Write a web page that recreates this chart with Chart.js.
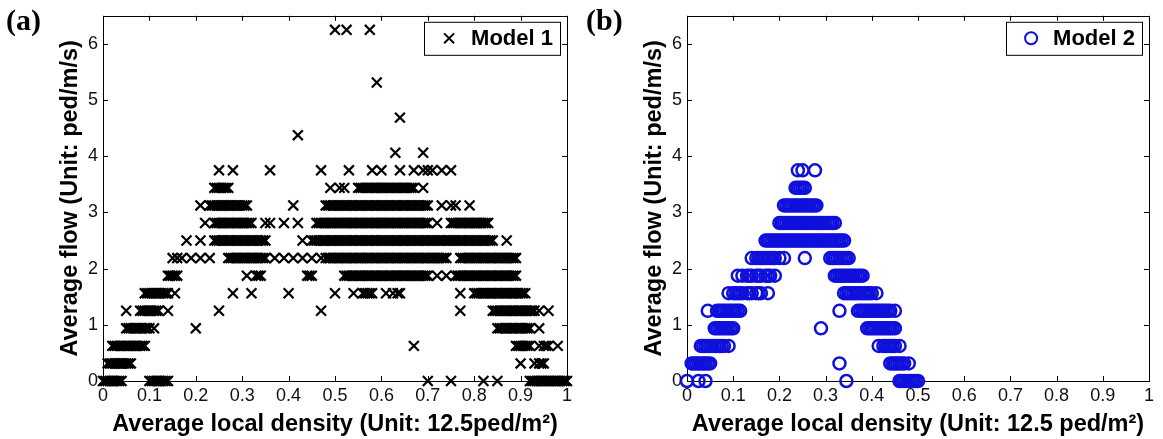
<!DOCTYPE html>
<html>
<head>
<meta charset="utf-8">
<script src="https://cdn.jsdelivr.net/npm/chart.js@4.4.1/dist/chart.umd.min.js"></script>
<style>
  body { margin: 0; background: #fff; }
  #wrap { position: relative; width: 1163px; height: 439px; }
  canvas { position: absolute; top: 0; }
  #chartA { left: 0; }
  #chartB { left: 580px; }
</style>
</head>
<body>
<div id="wrap">
  <canvas id="chartA" width="580" height="439"></canvas>
  <canvas id="chartB" width="583" height="439"></canvas>
</div>
<script>
// flow levels (ped/m/s) shared by both models
const flowLevels = [0, 0.3125, 0.625, 0.9375, 1.25, 1.5625, 1.875, 2.1875, 2.5, 2.8125,
  3.125, 3.4375, 3.75, 4.0625, 4.375, 4.6875, 5.3125, 6.25];

const xTicks = [0, 0.1, 0.2, 0.3, 0.4, 0.5, 0.6, 0.7, 0.8, 0.9, 1];
const yTicks = [0, 1, 2, 3, 4, 5, 6];

// Model 1: densities observed at each flow level (same order as flowLevels)
const model1Density = [
  [0, 0.005, 0.01, 0.015, 0.02, 0.025, 0.03, 0.035, 0.04, 0.1, 0.105, 0.11, 0.115, 0.12, 0.125, 0.13, 0.135, 0.14,
    0.7, 0.75, 0.82, 0.85, 0.92, 0.925, 0.93, 0.935, 0.94, 0.945, 0.95, 0.955, 0.96, 0.965, 0.97, 0.975, 0.98,
    0.985, 0.99, 0.995, 1],
  [0.01, 0.015, 0.02, 0.025, 0.03, 0.035, 0.04, 0.045, 0.05, 0.055, 0.06, 0.9, 0.93, 0.94, 0.945, 0.95],
  [0.02, 0.025, 0.03, 0.035, 0.04, 0.045, 0.05, 0.055, 0.06, 0.065, 0.07, 0.075, 0.08, 0.085, 0.09, 0.67,
    0.89, 0.895, 0.9, 0.905, 0.91, 0.915, 0.92, 0.94, 0.95, 0.955, 0.96, 0.98],
  [0.05, 0.055, 0.06, 0.065, 0.07, 0.075, 0.08, 0.085, 0.09, 0.095, 0.1, 0.11, 0.2, 0.85, 0.855, 0.86, 0.865,
    0.87, 0.875, 0.88, 0.885, 0.89, 0.895, 0.9, 0.905, 0.91, 0.915, 0.92, 0.94],
  [0.05, 0.08, 0.085, 0.09, 0.095, 0.1, 0.105, 0.11, 0.115, 0.12, 0.14, 0.25, 0.47, 0.77, 0.84, 0.845, 0.85,
    0.855, 0.86, 0.865, 0.87, 0.875, 0.88, 0.885, 0.89, 0.895, 0.9, 0.905, 0.91, 0.915, 0.92, 0.925, 0.93,
    0.94, 0.96],
  [0.09, 0.095, 0.1, 0.105, 0.11, 0.115, 0.12, 0.125, 0.13, 0.135, 0.14, 0.155, 0.28, 0.32, 0.4, 0.5, 0.54,
    0.56, 0.565, 0.57, 0.575, 0.58, 0.61, 0.625, 0.635, 0.64, 0.77, 0.8, 0.805, 0.81, 0.815, 0.82, 0.825, 0.83,
    0.835, 0.84, 0.845, 0.85, 0.855, 0.86, 0.865, 0.87, 0.875, 0.88, 0.885, 0.89, 0.895, 0.9, 0.905, 0.91],
  [0.14, 0.145, 0.15, 0.155, 0.16, 0.31, 0.33, 0.335, 0.34, 0.44, 0.445, 0.45,
    0.52, 0.525, 0.53, 0.535, 0.54, 0.545, 0.55, 0.555, 0.56, 0.565, 0.57, 0.575, 0.58, 0.585, 0.59, 0.595,
    0.6, 0.605, 0.61, 0.615, 0.62, 0.625, 0.63, 0.635, 0.64, 0.645, 0.65, 0.655, 0.66, 0.665, 0.67, 0.675,
    0.68, 0.685, 0.69, 0.695, 0.7, 0.72, 0.74, 0.76, 0.765, 0.77, 0.775, 0.78, 0.785, 0.79, 0.795, 0.8, 0.805,
    0.81, 0.815, 0.82, 0.825, 0.83, 0.835, 0.84, 0.845, 0.85, 0.855, 0.86, 0.865, 0.87, 0.875, 0.88, 0.885, 0.89],
  [0.15, 0.16, 0.17, 0.19, 0.21, 0.23, 0.27, 0.275, 0.28, 0.285, 0.29, 0.295, 0.3, 0.305, 0.31, 0.315, 0.32,
    0.325, 0.33, 0.335, 0.34, 0.345, 0.35, 0.37, 0.39, 0.41, 0.43, 0.45, 0.47,
    0.48, 0.485, 0.49, 0.495, 0.5, 0.505, 0.51, 0.515, 0.52, 0.525, 0.53, 0.535, 0.54, 0.545, 0.55, 0.555,
    0.56, 0.565, 0.57, 0.575, 0.58, 0.585, 0.59, 0.595, 0.6, 0.605, 0.61, 0.615, 0.62, 0.625, 0.63, 0.635,
    0.64, 0.645, 0.65, 0.655, 0.66, 0.665, 0.67, 0.675, 0.68, 0.685, 0.69, 0.695, 0.7, 0.705, 0.71, 0.715,
    0.72, 0.725, 0.73, 0.735, 0.74, 0.77, 0.775, 0.78, 0.785, 0.79, 0.795, 0.8, 0.805, 0.81, 0.815, 0.82,
    0.825, 0.83, 0.835, 0.84, 0.845, 0.85, 0.855, 0.86, 0.865, 0.87, 0.875, 0.88, 0.885, 0.89],
  [0.18, 0.21, 0.24, 0.245, 0.25, 0.255, 0.26, 0.265, 0.27, 0.275, 0.28, 0.285, 0.29, 0.295, 0.3, 0.305, 0.31,
    0.315, 0.32, 0.325, 0.33, 0.335, 0.34, 0.345, 0.35, 0.43,
    0.45, 0.455, 0.46, 0.465, 0.47, 0.475, 0.48, 0.485, 0.49, 0.495, 0.5, 0.505, 0.51, 0.515, 0.52, 0.525,
    0.53, 0.535, 0.54, 0.545, 0.55, 0.555, 0.56, 0.565, 0.57, 0.575, 0.58, 0.585, 0.59, 0.595, 0.6, 0.605,
    0.61, 0.615, 0.62, 0.625, 0.63, 0.635, 0.64, 0.645, 0.65, 0.655, 0.66, 0.665, 0.67, 0.675, 0.68, 0.685,
    0.69, 0.695, 0.7, 0.705, 0.71, 0.715, 0.72, 0.725, 0.73, 0.735, 0.74, 0.745, 0.75, 0.755, 0.76, 0.765,
    0.77, 0.775, 0.78, 0.785, 0.79, 0.795, 0.8, 0.805, 0.81, 0.815, 0.82, 0.825, 0.83, 0.835, 0.84, 0.87],
  [0.22, 0.24, 0.245, 0.25, 0.255, 0.26, 0.265, 0.27, 0.275, 0.28, 0.285, 0.29, 0.295, 0.3, 0.305, 0.31, 0.315,
    0.32, 0.35, 0.36, 0.39, 0.42, 0.46, 0.465, 0.47, 0.475, 0.48, 0.485, 0.49, 0.495, 0.5, 0.505, 0.51, 0.515,
    0.52, 0.525, 0.53, 0.535, 0.54, 0.545, 0.55, 0.555, 0.56, 0.565, 0.57, 0.575, 0.58, 0.585, 0.59, 0.595,
    0.6, 0.605, 0.61, 0.615, 0.62, 0.625, 0.63, 0.635, 0.64, 0.645, 0.65, 0.655, 0.66, 0.665, 0.67, 0.675,
    0.68, 0.685, 0.69, 0.695, 0.7, 0.72, 0.75, 0.755, 0.76, 0.765, 0.77, 0.775, 0.78, 0.785, 0.79, 0.795, 0.8,
    0.805, 0.81, 0.815, 0.82, 0.825, 0.83],
  [0.21, 0.23, 0.235, 0.24, 0.245, 0.25, 0.255, 0.26, 0.265, 0.27, 0.275, 0.28, 0.285, 0.29, 0.295, 0.3, 0.305,
    0.31, 0.41, 0.48, 0.485, 0.49, 0.495, 0.5, 0.505, 0.51, 0.515, 0.52, 0.525, 0.53, 0.535, 0.54, 0.545, 0.55,
    0.555, 0.56, 0.565, 0.57, 0.575, 0.58, 0.585, 0.59, 0.595, 0.6, 0.605, 0.61, 0.615, 0.62, 0.625, 0.63,
    0.635, 0.64, 0.645, 0.65, 0.655, 0.66, 0.665, 0.67, 0.675, 0.68, 0.685, 0.69, 0.695, 0.7, 0.73, 0.75,
    0.76, 0.79],
  [0.24, 0.245, 0.25, 0.255, 0.26, 0.265, 0.27, 0.49, 0.51, 0.52, 0.55, 0.555, 0.56, 0.565, 0.57, 0.575, 0.58,
    0.585, 0.59, 0.595, 0.6, 0.605, 0.61, 0.615, 0.62, 0.625, 0.63, 0.635, 0.64, 0.645, 0.65, 0.655, 0.66,
    0.665, 0.67, 0.69],
  [0.25, 0.28, 0.36, 0.47, 0.53, 0.58, 0.6, 0.64, 0.67, 0.69, 0.7, 0.71, 0.73, 0.75],
  [0.63, 0.69],
  [0.42],
  [0.64],
  [0.59],
  [0.5, 0.525, 0.575]
];

// Model 2: densities observed at each flow level (only up to 3.75)
const model2Density = [
  [0, 0.025, 0.04, 0.345, 0.46, 0.465, 0.47, 0.475, 0.48, 0.485, 0.49, 0.495, 0.5],
  [0.01, 0.015, 0.02, 0.025, 0.03, 0.035, 0.04, 0.045, 0.05, 0.33, 0.44, 0.445, 0.45, 0.455, 0.46, 0.465,
    0.47, 0.48],
  [0.03, 0.035, 0.04, 0.045, 0.05, 0.055, 0.06, 0.065, 0.07, 0.075, 0.08, 0.09, 0.415, 0.425, 0.43, 0.435,
    0.44, 0.445, 0.45, 0.46],
  [0.06, 0.065, 0.07, 0.075, 0.08, 0.085, 0.09, 0.095, 0.1, 0.29, 0.39, 0.395, 0.4, 0.405, 0.41, 0.415, 0.42,
    0.425, 0.43, 0.435, 0.44, 0.445, 0.45],
  [0.045, 0.065, 0.07, 0.075, 0.08, 0.085, 0.09, 0.095, 0.1, 0.105, 0.11, 0.115, 0.33, 0.37, 0.375, 0.38,
    0.385, 0.39, 0.395, 0.4, 0.405, 0.41, 0.415, 0.42, 0.425, 0.43, 0.435, 0.44, 0.45],
  [0.09, 0.1, 0.105, 0.11, 0.115, 0.12, 0.13, 0.135, 0.14, 0.15, 0.155, 0.16, 0.175, 0.34, 0.345, 0.35, 0.355,
    0.36, 0.365, 0.37, 0.375, 0.38, 0.385, 0.39, 0.395, 0.4, 0.41],
  [0.11, 0.12, 0.13, 0.135, 0.14, 0.15, 0.155, 0.16, 0.17, 0.175, 0.18, 0.19, 0.32, 0.325, 0.33, 0.335, 0.34,
    0.345, 0.35, 0.355, 0.36, 0.365, 0.37, 0.375, 0.38],
  [0.14, 0.15, 0.155, 0.16, 0.165, 0.17, 0.175, 0.18, 0.185, 0.19, 0.2, 0.21, 0.255, 0.31, 0.315, 0.32, 0.325,
    0.33, 0.335, 0.34, 0.345, 0.35],
  [0.17, 0.175, 0.18, 0.185, 0.19, 0.195, 0.2, 0.205, 0.21, 0.215, 0.22, 0.225, 0.23, 0.235, 0.24, 0.245, 0.25,
    0.255, 0.26, 0.265, 0.27, 0.275, 0.28, 0.285, 0.29, 0.295, 0.3, 0.305, 0.31, 0.315, 0.32, 0.325, 0.33,
    0.335, 0.34],
  [0.2, 0.205, 0.21, 0.215, 0.22, 0.225, 0.23, 0.235, 0.24, 0.245, 0.25, 0.255, 0.26, 0.265, 0.27, 0.275, 0.28,
    0.285, 0.29, 0.295, 0.3, 0.305, 0.31, 0.315, 0.32],
  [0.21, 0.215, 0.22, 0.225, 0.23, 0.235, 0.24, 0.245, 0.25, 0.255, 0.26, 0.265, 0.27, 0.275, 0.28],
  [0.235, 0.24, 0.245, 0.25, 0.255],
  [0.24, 0.25, 0.277]
];

const FONT = '"Liberation Sans", Arial, Helvetica, sans-serif';

function toPoints(densities) {
  const pts = [];
  densities.forEach((row, i) => row.forEach(d => pts.push({ x: d, y: flowLevels[i] })));
  return pts;
}

// box around the axes with inward ticks on all four sides
const framePlugin = {
  id: 'frame',
  beforeDatasetsDraw(chart) {
    const { ctx, chartArea: a, scales: { x, y } } = chart;
    ctx.save();
    ctx.strokeStyle = '#000';
    ctx.lineWidth = 1;
    ctx.strokeRect(Math.round(a.left) + 0.5, Math.round(a.top) + 0.5, Math.round(a.width), Math.round(a.height));
    ctx.beginPath();
    xTicks.forEach(v => {
      const px = Math.round(x.getPixelForValue(v)) + 0.5;
      ctx.moveTo(px, a.bottom); ctx.lineTo(px, a.bottom - 5);
      ctx.moveTo(px, a.top); ctx.lineTo(px, a.top + 5);
    });
    yTicks.forEach(v => {
      const py = Math.round(y.getPixelForValue(v)) + 0.5;
      ctx.moveTo(a.left, py); ctx.lineTo(a.left + 5, py);
      ctx.moveTo(a.right, py); ctx.lineTo(a.right - 5, py);
    });
    ctx.stroke();
    ctx.restore();
  }
};

function drawMarker(ctx, style, color, x, y, r) {
  ctx.save();
  ctx.strokeStyle = color;
  ctx.lineWidth = 2;
  ctx.beginPath();
  if (style === 'circle') {
    ctx.arc(x, y, r, 0, Math.PI * 2);
  } else {
    const d = r * Math.SQRT1_2;
    ctx.moveTo(x - d, y - d); ctx.lineTo(x + d, y + d);
    ctx.moveTo(x - d, y + d); ctx.lineTo(x + d, y - d);
  }
  ctx.stroke();
  ctx.restore();
}

// boxed legend in the upper right corner plus the panel tag
const boxLegend = {
  id: 'boxLegend',
  afterDraw(chart, args, opts) {
    const { ctx, chartArea: a } = chart;
    ctx.save();
    ctx.font = 'bold 22px ' + FONT;
    const tw = ctx.measureText(opts.label).width;
    const w = 25 + 22 + tw + 7, h = 33;
    const bx = a.right - 7 - w, by = a.top + 6;
    ctx.fillStyle = '#fff';
    ctx.fillRect(bx, by, w, h);
    ctx.strokeStyle = '#000';
    ctx.lineWidth = 1;
    ctx.strokeRect(Math.round(bx) + 0.5, by + 0.5, Math.round(w), h);
    drawMarker(ctx, opts.pointStyle, opts.color, bx + 25, by + h / 2, opts.radius);
    ctx.fillStyle = '#000';
    ctx.textBaseline = 'middle';
    ctx.fillText(opts.label, bx + 47, by + h / 2 + 1);
    ctx.font = 'bold 30px "Liberation Serif", "Times New Roman", serif';
    ctx.textBaseline = 'alphabetic';
    ctx.fillText(opts.tag, 6, 30);
    ctx.restore();
  }
};

function makeChart(id, cfg) {
  const tickFont = { family: FONT, size: 18 };
  const titleFont = { family: FONT, size: 23.5, weight: 'bold' };
  return new Chart(document.getElementById(id), {
    type: 'scatter',
    data: {
      datasets: [{
        label: cfg.label,
        data: toPoints(cfg.densities),
        pointStyle: cfg.pointStyle,
        pointRadius: cfg.radius,
        pointBorderWidth: cfg.borderWidth,
        pointBorderColor: cfg.color,
        pointBackgroundColor: 'rgba(0,0,0,0)',
        clip: false
      }]
    },
    options: {
      responsive: false,
      animation: false,
      devicePixelRatio: 1,
      events: [],
      layout: { padding: { left: cfg.padLeft, right: cfg.padRight, top: 11, bottom: 0 } },
      plugins: {
        legend: { display: false },
        tooltip: { enabled: false },
        boxLegend: { label: cfg.label, tag: cfg.tag, pointStyle: cfg.pointStyle, color: cfg.color, radius: cfg.radius }
      },
      scales: {
        x: {
          type: 'linear', min: 0, max: 1,
          afterFit(s) { s.height = 58; },
          ticks: { stepSize: 0.1, padding: 4, font: tickFont, color: '#111', maxRotation: 0,
            callback: v => String(Math.round(v * 10) / 10) },
          grid: { display: false, drawTicks: false },
          border: { display: false },
          title: { display: true, text: cfg.xTitle, font: titleFont, color: '#000', padding: { top: 4, bottom: 0 } }
        },
        y: {
          type: 'linear', min: 0, max: 6.5,
          afterFit(s) { s.width = 50; },
          ticks: { stepSize: 1, includeBounds: false, padding: 5, font: tickFont, color: '#111' },
          grid: { display: false, drawTicks: false },
          border: { display: false },
          title: { display: true, text: 'Average flow (Unit: ped/m/s)', font: titleFont, color: '#000', padding: { top: 3, bottom: 4 } }
        }
      }
    },
    plugins: [framePlugin, boxLegend]
  });
}

makeChart('chartA', {
  label: 'Model 1', tag: '(a)', densities: model1Density,
  pointStyle: 'crossRot', radius: 7, borderWidth: 2.2, color: '#000',
  xTitle: 'Average local density (Unit: 12.5ped/m\u00B2)', padLeft: 53, padRight: 13
});

makeChart('chartB', {
  label: 'Model 2', tag: '(b)', densities: model2Density,
  pointStyle: 'circle', radius: 6, borderWidth: 2.5, color: '#1010dc',
  xTitle: 'Average local density (Unit: 12.5 ped/m\u00B2)', padLeft: 57, padRight: 14
});
</script>
</body>
</html>
